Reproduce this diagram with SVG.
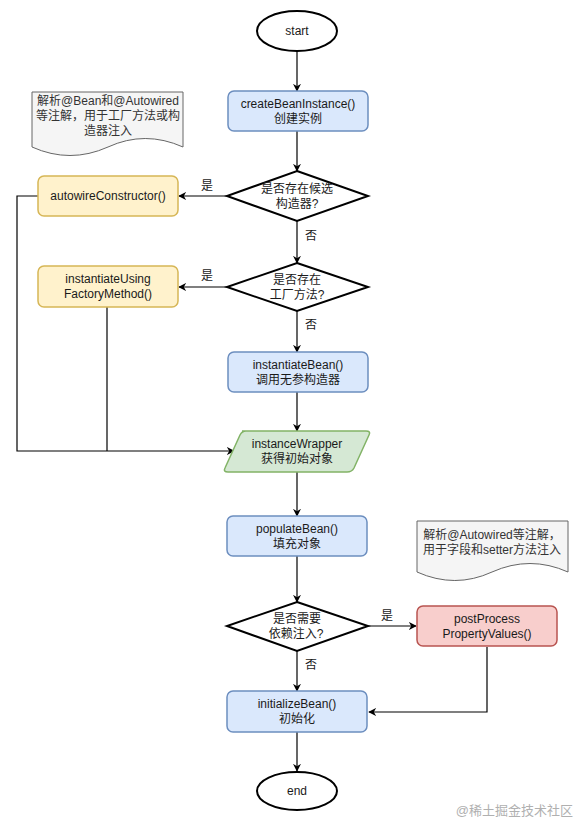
<svg xmlns="http://www.w3.org/2000/svg" width="578" height="822" viewBox="0 0 578 822">
<style>
text{font-family:"Liberation Sans","Noto Sans CJK SC",sans-serif;font-size:12px;fill:#1a1a1a;text-anchor:middle}
.blue{fill:#dae8fc;stroke:#6c8ebf;stroke-width:1.5}
.yellow{fill:#fff2cc;stroke:#d6b656;stroke-width:1.5}
.green{fill:#d5e8d4;stroke:#82b366;stroke-width:1.5}
.red{fill:#f8cecc;stroke:#b85450;stroke-width:1.5}
.term{fill:#ffffff;stroke:#000000;stroke-width:2}
.dec{fill:#ffffff;stroke:#000000;stroke-width:2}
.note{fill:#f5f5f5;stroke:#666666;stroke-width:1}
.note-t{fill:#333333}
.edge{fill:none;stroke:#000000;stroke-width:1.2}
.wm{fill:#b0b0b0;font-size:13px;text-anchor:end}
</style>
<defs>
<marker id="arr" viewBox="0 0 10 10" refX="9" refY="5" markerWidth="8" markerHeight="8" markerUnits="userSpaceOnUse" orient="auto">
<path d="M0,0 L10,5 L0,10 L3,5 Z" fill="#000"/>
</marker>
</defs>
<rect width="578" height="822" fill="#ffffff"/>

<g id="connectors">
<line class="edge" x1="297" y1="51" x2="297" y2="91" marker-end="url(#arr)"/>
<line class="edge" x1="297" y1="131" x2="297" y2="171" marker-end="url(#arr)"/>
<line class="edge" x1="297" y1="221" x2="297" y2="263" marker-end="url(#arr)"/>
<line class="edge" x1="297" y1="311" x2="297" y2="352" marker-end="url(#arr)"/>
<line class="edge" x1="297" y1="392" x2="297" y2="431" marker-end="url(#arr)"/>
<line class="edge" x1="297" y1="472" x2="297" y2="516" marker-end="url(#arr)"/>
<line class="edge" x1="297" y1="556" x2="297" y2="602" marker-end="url(#arr)"/>
<line class="edge" x1="297" y1="651" x2="297" y2="691" marker-end="url(#arr)"/>
<line class="edge" x1="297" y1="732" x2="297" y2="771" marker-end="url(#arr)"/>
<line class="edge" x1="227" y1="196" x2="179" y2="196" marker-end="url(#arr)"/>
<line class="edge" x1="227" y1="287" x2="179" y2="287" marker-end="url(#arr)"/>
<polyline class="edge" points="38,196 17,196 17,451 234,451" marker-end="url(#arr)"/>
<line class="edge" x1="107" y1="307" x2="107" y2="451"/>
<line class="edge" x1="368" y1="626" x2="416" y2="626" marker-end="url(#arr)"/>
<polyline class="edge" points="487,647 487,712 369,712" marker-end="url(#arr)"/>
<text x="207" y="190">是</text>
<text x="207" y="280">是</text>
<text x="311" y="240">否</text>
<text x="311" y="329">否</text>
<text x="387" y="620">是</text>
<text x="311" y="669">否</text>
</g>

<g id="start">
<ellipse class="term" cx="297" cy="31" rx="40" ry="20"/>
<text x="297" y="35">start</text>
</g>

<g id="note1">
<path class="note" d="M32,92 H183 V147 Q145,130 108,147 Q70,164 32,147 Z"/>
<text class="note-t" x="108" y="105">解析@Bean和@Autowired</text>
<text class="note-t" x="108" y="120">等注解，用于工厂方法或构</text>
<text class="note-t" x="108" y="135">造器注入</text>
</g>

<g id="createBeanInstance">
<rect class="blue" x="228" y="91" width="140" height="40" rx="6"/>
<text x="298" y="108">createBeanInstance()</text>
<text x="298" y="123">创建实例</text>
</g>

<g id="decision1">
<polygon class="dec" points="297,171 368,196 297,221 227,196"/>
<text x="297" y="193">是否存在候选</text>
<text x="297" y="208">构造器?</text>
</g>

<g id="autowireConstructor">
<rect class="yellow" x="38" y="176" width="140" height="40" rx="6"/>
<text x="108" y="200">autowireConstructor()</text>
</g>

<g id="decision2">
<polygon class="dec" points="297,263 368,287 297,311 227,287"/>
<text x="297" y="284">是否存在</text>
<text x="297" y="299">工厂方法?</text>
</g>

<g id="instantiateUsingFactoryMethod">
<rect class="yellow" x="38" y="266" width="140" height="41" rx="6"/>
<text x="108" y="283">instantiateUsing</text>
<text x="108" y="298">FactoryMethod()</text>
</g>

<g id="instantiateBean">
<rect class="blue" x="228" y="352" width="140" height="40" rx="6"/>
<text x="298" y="369">instantiateBean()</text>
<text x="298" y="384">调用无参构造器</text>
</g>

<g id="instanceWrapper">
<path class="green" d="M242,431 H366 Q371,431 369,435 L354,468 Q352,472 347,472 H228 Q223,472 225,468 L240,435 Q242,431 246,431 Z"/>
<text x="297" y="448">instanceWrapper</text>
<text x="297" y="463">获得初始对象</text>
</g>

<g id="populateBean">
<rect class="blue" x="227" y="516" width="140" height="40" rx="6"/>
<text x="297" y="533">populateBean()</text>
<text x="297" y="548">填充对象</text>
</g>

<g id="note2">
<path class="note" d="M417,521 H568 V572 Q530,555 492,572 Q455,589 417,572 Z"/>
<text class="note-t" x="492" y="539">解析@Autowired等注解，</text>
<text class="note-t" x="492" y="554">用于字段和setter方法注入</text>
</g>

<g id="decision3">
<polygon class="dec" points="297,602 368,626 297,651 227,626"/>
<text x="297" y="623">是否需要</text>
<text x="296" y="638">依赖注入?</text>
</g>

<g id="postProcessPropertyValues">
<rect class="red" x="417" y="606" width="140" height="40" rx="6"/>
<text x="487" y="623">postProcess</text>
<text x="487" y="638">PropertyValues()</text>
</g>

<g id="initializeBean">
<rect class="blue" x="227" y="691" width="140" height="41" rx="6"/>
<text x="297" y="708">initializeBean()</text>
<text x="297" y="723">初始化</text>
</g>

<g id="end">
<ellipse class="term" cx="297" cy="791" rx="40" ry="19"/>
<text x="297" y="795">end</text>
</g>

<text class="wm" x="573" y="815">@稀土掘金技术社区</text>
</svg>
